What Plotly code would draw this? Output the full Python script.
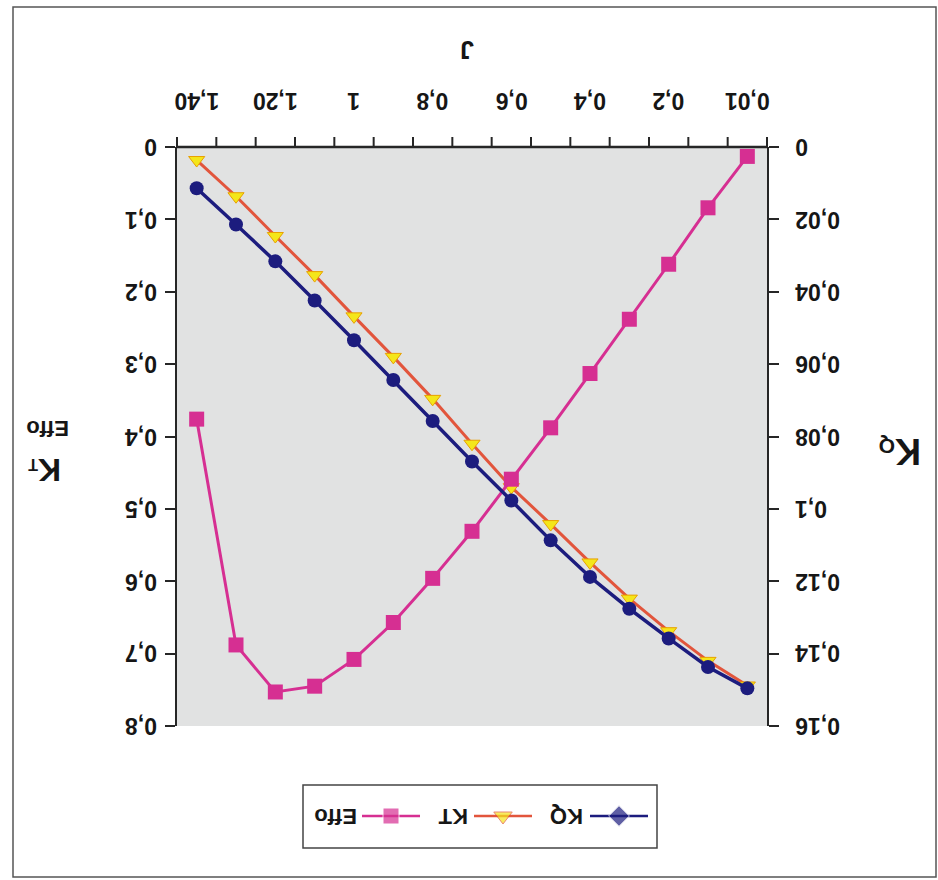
import plotly.graph_objects as go

# ---------------- data ----------------
J_CATS = ["0,01", "0,1", "0,2", "0,3", "0,4", "0,5", "0,6", "0,7",
          "0,8", "0,9", "1", "1,10", "1,20", "1,30", "1,40"]
J_TICKTEXT = ["0,01", "", "0,2", "", "0,4", "", "0,6", "",
              "0,8", "", "1", "", "1,20", "", "1,40"]
KQ = [0.1496, 0.1437, 0.1358, 0.1276, 0.1188, 0.1087, 0.0977, 0.0869,
      0.0757, 0.0644, 0.0534, 0.0424, 0.0316, 0.0214, 0.0114]
KT = [0.744, 0.710, 0.669, 0.624, 0.574, 0.521, 0.470, 0.410,
      0.348, 0.290, 0.234, 0.177, 0.123, 0.068, 0.018]
EFFO = [0.013, 0.084, 0.162, 0.238, 0.313, 0.388, 0.459, 0.531,
        0.596, 0.657, 0.708, 0.745, 0.753, 0.688, 0.376]
SERIES_NAMES = ["KQ", "KT", "Effo"]
KT_TICKS = [0, 0.1, 0.2, 0.3, 0.4, 0.5, 0.6, 0.7, 0.8]
KT_TICKTEXT = ["0", "0,1", "0,2", "0,3", "0,4", "0,5", "0,6", "0,7", "0,8"]
KQ_TICKS = [0, 0.02, 0.04, 0.06, 0.08, 0.1, 0.12, 0.14, 0.16]
KQ_TICKTEXT = ["0", "0,02", "0,04", "0,06", "0,08", "0,1", "0,12", "0,14", "0,16"]

# ---------------- styling ----------------
W, H = 938, 880
PX0, PX1 = 177, 767      # plot area in pixels
PY0, PY1 = 147, 726
FONT = "Liberation Sans, Arial, sans-serif"
C_KQ_LINE = "#1c1c7e"
C_KT_LINE = "#e2553c"
C_KT_MARK = "#f4e61a"
C_EFFO = "#d62f92"
AXC = "#262626"
TXT = "#161616"
TICKLEN = 10


def fx(px):
    return px / W


def fy(py):
    return 1 - py / H


labfont = dict(family=FONT, size=23, color=TXT, weight="bold")
N = len(J_CATS)
x_range = [N - 0.5, -0.5]  # reversed category axis (picture is upside-down)

fig = go.Figure()

fig.add_trace(go.Scatter(x=J_CATS, y=KQ, name=SERIES_NAMES[0], yaxis="y2",
                         mode="lines+markers",
                         line=dict(color=C_KQ_LINE, width=3.5),
                         marker=dict(symbol="circle", size=14, color=C_KQ_LINE),
                         showlegend=False))
fig.add_trace(go.Scatter(x=J_CATS, y=KT, name=SERIES_NAMES[1], yaxis="y",
                         mode="lines+markers",
                         line=dict(color=C_KT_LINE, width=3),
                         marker=dict(symbol="triangle-down", size=14, color=C_KT_MARK,
                                     line=dict(color="#e8a000", width=1)),
                         showlegend=False))
fig.add_trace(go.Scatter(x=J_CATS, y=EFFO, name=SERIES_NAMES[2], yaxis="y",
                         mode="lines+markers",
                         line=dict(color=C_EFFO, width=3),
                         marker=dict(symbol="square", size=15, color=C_EFFO),
                         showlegend=False))

# ---- legend drawn upside-down in its own small axis ----
LEG_X0, LEG_X1, LEG_Y0, LEG_Y1 = 303, 657, 785, 848
leg_items = [  # (name, line colour, symbol, marker colour, text centre, line start, line end)
    ("Effo", C_EFFO, "square", C_EFFO, 33, 59, 117),
    ("KT", C_KT_LINE, "triangle-down", C_KT_MARK, 150, 171, 229),
    ("KQ", C_KQ_LINE, "diamond", C_KQ_LINE, 264, 287, 345),
]
annotations = []
for name, lc, sym, mc, tx, l0, l1 in leg_items:
    fig.add_trace(go.Scatter(x=[l0, (l0 + l1) / 2, l1], y=[32, 32, 32],
                             xaxis="x3", yaxis="y3", mode="lines+markers",
                             line=dict(color=lc, width=2.5),
                             marker=dict(symbol=sym, color=mc, size=[0, 16, 0]),
                             showlegend=False, hoverinfo="skip"))
    annotations.append(dict(x=tx, y=31, xref="x3", yref="y3", text=name,
                            xanchor="center", yanchor="middle",
                            showarrow=False, textangle=180,
                            font=dict(family=FONT, size=22, color=TXT,
                                      weight="bold")))

# ---- upside-down tick labels, placed through the axes' own scales ----
for v, t in zip(KT_TICKS, KT_TICKTEXT):
    annotations.append(dict(x=fx(159), xref="paper", y=v, yref="y", text=t,
                            xanchor="right", yanchor="middle", showarrow=False,
                            textangle=180, font=labfont))
for v, t in zip(KQ_TICKS, KQ_TICKTEXT):
    annotations.append(dict(x=fx(793), xref="paper", y=v, yref="y2", text=t,
                            xanchor="left", yanchor="middle", showarrow=False,
                            textangle=180, font=labfont))
for i, t in enumerate(J_TICKTEXT):
    if t:
        annotations.append(dict(x=i, xref="x", y=fy(101), yref="paper", text=t,
                                xanchor="center", yanchor="middle", showarrow=False,
                                textangle=180, font=labfont))

# ---- axis titles (upside-down) ----
annotations += [
    dict(x=fx((PX0 + PX1) / 2 - 5), y=fy(50), xref="paper", yref="paper", text="J",
         xanchor="center", yanchor="middle",
         showarrow=False, textangle=180,
         font=dict(family=FONT, size=25, color=TXT, weight="bold")),
    dict(x=fx(45), y=fy(470), xref="paper", yref="paper",
         text="K<span style='font-size:16px'>T</span>",
         xanchor="center", yanchor="middle",
         showarrow=False, textangle=180,
         font=dict(family=FONT, size=32, color=TXT, weight="bold")),
    dict(x=fx(48), y=fy(429), xref="paper", yref="paper", text="Effo",
         xanchor="center", yanchor="middle",
         showarrow=False, textangle=180,
         font=dict(family=FONT, size=22, color=TXT, weight="bold")),
    dict(x=fx(900), y=fy(452), xref="paper", yref="paper",
         text="K<span style='font-size:21px'>Q</span>",
         xanchor="center", yanchor="middle",
         showarrow=False, textangle=180,
         font=dict(family=FONT, size=36, color=TXT, weight="bold")),
]

shapes = [
    # outer frame
    dict(type="rect", xref="paper", yref="paper", x0=fx(13), x1=fx(936),
         y0=fy(877), y1=fy(7), line=dict(color="#555", width=1.5)),
    # legend box
    dict(type="rect", xref="paper", yref="paper", x0=fx(LEG_X0), x1=fx(LEG_X1),
         y0=fy(LEG_Y1), y1=fy(LEG_Y0), line=dict(color="#444", width=1.5),
         fillcolor="white", layer="below"),
    # top (category) axis line
    dict(type="line", xref="paper", yref="paper", x0=fx(PX0 - 1), x1=fx(PX1 + 1),
         y0=fy(PY0), y1=fy(PY0), line=dict(color=AXC, width=2.5), layer="above"),
]
# category-axis tick marks sit between categories (spreadsheet style);
# positions follow the same reversed linear mapping as the category axis
for k in range(N + 1):
    xb = k - 0.5
    frac = (x_range[0] - xb) / (x_range[0] - x_range[1])
    xp = fx(PX0) + frac * (fx(PX1) - fx(PX0))
    shapes.append(dict(type="line", xref="paper", yref="paper",
                       x0=xp, x1=xp, y0=fy(PY0), y1=fy(PY0 - TICKLEN),
                       line=dict(color=AXC, width=2), layer="above"))

common_axis = dict(ticks="outside", ticklen=TICKLEN, tickwidth=2, tickcolor=AXC,
                   showline=True, linecolor=AXC, linewidth=2,
                   showgrid=False, zeroline=False, showticklabels=False,
                   automargin=False)

fig.update_layout(
    width=W, height=H, autosize=False,
    margin=dict(l=0, r=0, t=0, b=0, pad=0),
    paper_bgcolor="white", plot_bgcolor="#e1e2e2",
    separators=", ",
    showlegend=False,
    xaxis=dict(domain=[fx(PX0), fx(PX1)], anchor="y", type="category",
               categoryorder="array", categoryarray=J_CATS,
               range=x_range, side="top",
               showline=False, ticks="",
               showgrid=False, zeroline=False, showticklabels=False,
               automargin=False),
    yaxis=dict(domain=[fy(PY1), fy(PY0)], anchor="x", side="left",
               range=[0.8, 0], tickmode="array", tickvals=KT_TICKS,
               **common_axis),
    yaxis2=dict(overlaying="y", anchor="x", side="right",
                range=[0.16, 0], tickmode="array", tickvals=KQ_TICKS,
                **common_axis),
    xaxis3=dict(domain=[fx(LEG_X0), fx(LEG_X1)], anchor="y3",
                range=[0, LEG_X1 - LEG_X0], visible=False, fixedrange=True,
                automargin=False),
    yaxis3=dict(domain=[fy(LEG_Y1), fy(LEG_Y0)], anchor="x3",
                range=[0, LEG_Y1 - LEG_Y0], visible=False, fixedrange=True,
                automargin=False),
    annotations=annotations,
    shapes=shapes,
)

fig.write_html("out.html")
